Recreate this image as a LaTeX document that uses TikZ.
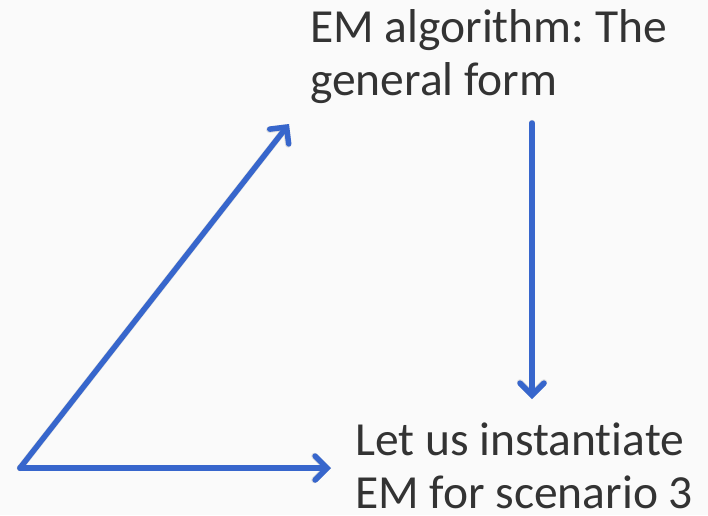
\documentclass[tikz,border=0pt]{standalone}
\usepackage{fontspec}
\setmainfont[Ligatures={NoCommon}]{Carlito}
\frenchspacing
\usetikzlibrary{arrows.meta}
\definecolor{bg}{HTML}{FAFAFA}
\definecolor{ink}{HTML}{333333}
\definecolor{flow}{HTML}{3766CC}
\tikzset{
  label text/.style={inner sep=0pt, anchor=base west, align=left, text=ink,
    font=\fontsize{47.5}{53}\selectfont},
  flow arrow/.style={draw=flow, line width=5.5pt, line cap=round,
    -{Straight Barb[length=12pt, width=24pt, line width=5.5pt, line cap=round]}},
  flow shadow/.style={draw=black, opacity=0.10, line width=6.5pt, line cap=round,
    -{Straight Barb[length=12pt, width=24pt, line width=6.5pt, line cap=round]}}
}
\begin{document}
\begin{tikzpicture}[x=1pt, y=-1pt]
  \fill[bg] (0,0) rectangle (708,515);
  \useasboundingbox (0,0) rectangle (708,515);

  % text blocks (anchored at the baseline of the last line)
  \node[label text] (general) at (310,95) {EM algorithm: The\\general form};
  \node[label text] (instance) at (355,508) {Let us instantiate\\EM for scenario 3};

  % arrow end points
  \coordinate (corner) at (20,468);
  \coordinate (diagTip) at (289,124);
  \coordinate (horizTip) at (331,468);
  \coordinate (vertStart) at (532,123);
  \coordinate (vertTip) at (532,399);

  % soft shadows
  \begin{scope}[shift={(1.5,2)}]
    \draw[flow shadow] (corner) -- (diagTip);
    \draw[flow shadow] (corner) -- (horizTip);
    \draw[flow shadow] (vertStart) -- (vertTip);
  \end{scope}

  % connectors
  \draw[flow arrow] (corner) -- (diagTip);
  \draw[flow arrow] (corner) -- (horizTip);
  \draw[flow arrow] (vertStart) -- (vertTip);
\end{tikzpicture}
\end{document}
